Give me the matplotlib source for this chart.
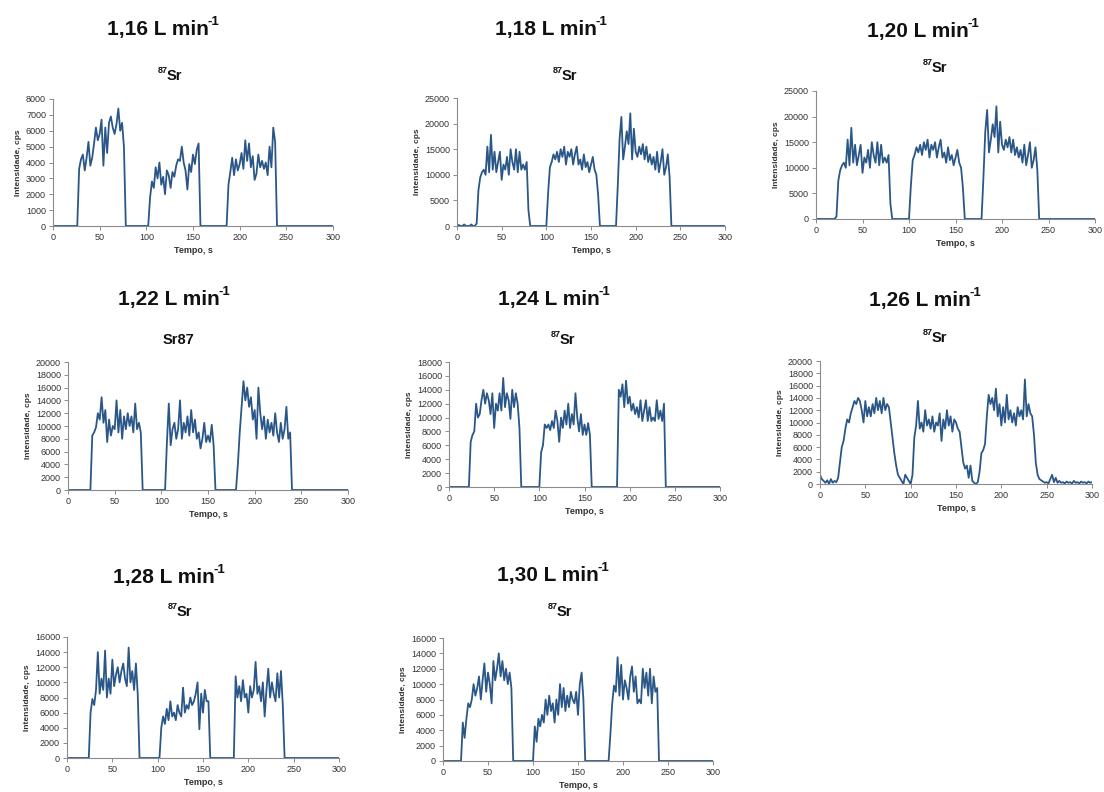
import numpy as np
import matplotlib
matplotlib.use("Agg")
import matplotlib.pyplot as plt

plt.rcParams['font.family'] = ['Liberation Sans', 'DejaVu Sans']

# ---------------- data (time grid, s; intensity, cps) ----------------
tempo = list(range(0, 301, 2))

sr_116 = ([0] * 14 +
          [3600, 4200, 4500, 3500, 4300, 5300, 3800, 4300, 5200, 6200, 5400, 5800, 6700,
           3800, 6200, 4600, 6500, 6900, 6200, 5800, 6400, 7400, 6000, 6500, 5000] +
          [0] * 13 +
          [1800, 2800, 2400, 3700, 3000, 4000, 2600, 3100, 2000, 3500, 3200, 2400, 3400,
           3100, 3800, 4200, 4100, 5000, 4000, 3500, 2300, 3900, 3400, 4500, 3900, 4800, 5200] +
          [0] * 15 +
          [2600, 3400, 4300, 3200, 4200, 3500, 3900, 4600, 3600, 5400, 4100, 5200, 3700,
           4400, 2900, 3300, 4500, 3700, 4100, 3600, 4000, 3200, 5000, 3700, 6200, 5300] +
          [0] * 31)

sr_118 = ([0, 200, 0, 0, 300, 0, 0, 0, 300, 0, 0] +
          [500, 7000, 9500, 10500, 11000, 10000, 15500, 10500, 17800, 11000, 14500, 10500,
           12500, 14500, 9000, 12000, 11000, 13500, 10000, 15000, 12500, 11000, 15000, 10500,
           14500, 11000, 12000, 11000, 12500, 3000] +
          [0] * 10 +
          [6500, 11500, 12500, 14000, 13000, 14500, 12500, 15000, 13500, 15500, 12000, 14500,
           13500, 15000, 12000, 14000, 15500, 12000, 13000, 11000, 14000, 11500, 12500, 10500,
           12000, 13500, 11000, 10000, 6000] +
          [0] * 10 +
          [8000, 17000, 21300, 13000, 15500, 18500, 16000, 22000, 13000, 19000, 14500, 13500,
           15500, 14000, 16000, 13000, 15500, 12500, 14000, 12000, 13500, 11000, 14500, 10500,
           12500, 15000, 10000, 11500, 14000, 9500] +
          [0] * 31)

sr_120 = ([0] * 11 +
          [500, 7500, 9500, 10500, 11000, 10000, 15500, 10500, 17800, 11000, 14500, 10500,
           12500, 14500, 9000, 12000, 11000, 13500, 10000, 15000, 12500, 11000, 15000, 10500,
           14500, 11000, 12000, 11000, 12500, 3000] +
          [0] * 10 +
          [6500, 11500, 12500, 14000, 13000, 14500, 12500, 15000, 13500, 15500, 12000, 14500,
           13500, 15000, 12000, 14000, 15500, 12000, 13000, 11000, 14000, 11500, 12500, 10500,
           12000, 13500, 11000, 10000, 6000] +
          [0] * 10 +
          [8000, 17000, 21300, 13000, 15500, 18500, 16000, 22000, 13000, 19000, 14500, 13500,
           15500, 14000, 16000, 13000, 15500, 12500, 14000, 12000, 13500, 11000, 14500, 10500,
           12500, 15000, 10000, 11500, 14000, 9500] +
          [0] * 31)

sr_122 = ([0] * 13 +
          [8500, 9000, 9800, 12000, 11000, 14500, 10500, 12500, 7500, 11000, 8500, 10000,
           9500, 14000, 9000, 12500, 8000, 11500, 9500, 12000, 10000, 11500, 9000, 13500,
           9500, 10500, 9000] +
          [0] * 13 +
          [7500, 13500, 7000, 9500, 10500, 8000, 9500, 14000, 8000, 10500, 9000, 11500, 8500,
           12500, 9000, 11000, 8000, 9000, 6500, 8000, 10500, 7500, 8500, 7500, 10200, 7000] +
          [0] * 12 +
          [4000, 9000, 13000, 17000, 14000, 16000, 13000, 14500, 11000, 12500, 8000, 16000,
           12000, 9500, 11500, 8000, 11000, 9000, 10500, 8500, 12000, 9000, 7500, 10500, 8000,
           9500, 13000, 8000, 9000] +
          [0] * 31)

sr_124 = ([0] * 12 +
          [6500, 7500, 8000, 12000, 10000, 10500, 12500, 14000, 12000, 13500, 12500, 10500,
           13500, 8500, 12000, 11000, 13500, 11000, 15700, 11500, 13500, 12500, 9800, 14000,
           11500, 13500, 12000, 8500] +
          [0] * 11 +
          [5000, 6000, 9000, 8500, 9000, 8200, 9500, 8500, 11000, 9500, 6500, 10000, 8500,
           11000, 9000, 12000, 8500, 10500, 9000, 13500, 10000, 8000, 10500, 7500, 9000, 7500,
           9200, 7500] +
          [0] * 15 +
          [14000, 13000, 14800, 11500, 15300, 12000, 13000, 11000, 12000, 10500, 11500, 10000,
           12500, 9500, 11000, 12500, 9500, 11500, 9500, 10000, 9500, 12500, 9800, 11000, 9500,
           12000] +
          [0] * 31)

sr_126 = [1500, 800, 500, 200, 600, 0, 800, 200, 500, 300,
          1000, 3500, 6000, 7000, 9000, 10500, 10000, 11500, 12500, 13500,
          13000, 14000, 13500, 12000, 10000, 13500, 11000, 12500, 11000, 13000,
          11500, 14000, 12000, 13500, 11500, 14000, 12000, 13000, 12500, 10000,
          7500, 5000, 3000, 1500, 1000, 500, 0, 1500, 1000, 500,
          0, 1500, 7500, 9500, 13500, 9000, 10000, 8500, 12000, 9500,
          10500, 9000, 11000, 8500, 10000, 9500, 11500, 7000, 10500, 9000,
          12000, 9500, 11000, 8500, 10500, 10000, 9000, 8500, 6000, 3500,
          2500, 3000, 1000, 3000, 500, 200, 0, 300, 2000, 5000,
          5500, 6500, 11000, 14500, 13000, 14000, 12000, 15500, 11000, 13000,
          9500, 12500, 10000, 14500, 10500, 12000, 10000, 11500, 9500, 12500,
          11000, 12000, 10500, 17000, 11000, 13000, 11500, 11000, 8000, 3500,
          1500, 800, 600, 400, 200, 300, 100, 800, 1500, 300,
          1000, 200, 500, 200, 300, 100, 400, 200, 300, 100,
          500, 200, 300, 100, 400, 200, 300, 100, 400, 200,
          300]

sr_128 = ([0] * 13 +
          [6000, 7800, 7000, 9000, 14000, 8500, 10500, 9000, 14200, 8000, 10500, 8500, 13000,
           9500, 11000, 12000, 10000, 11500, 12500, 10500, 9500, 14600, 10000, 11500, 9000,
           12500, 8500] +
          [0] * 12 +
          [4000, 5500, 4500, 6500, 5000, 7500, 5500, 6000, 5000, 7000, 6000, 5500, 9300, 6000,
           7000, 6500, 8000, 7000, 7500, 8500, 10000, 3800, 8500, 6000, 9000, 7500, 7500] +
          [0] * 14 +
          [10800, 8000, 9500, 7500, 10300, 8000, 8500, 6000, 9500, 8000, 9000, 12700, 8500,
           9500, 7500, 10000, 5500, 9000, 11800, 8000, 10000, 8500, 7500, 11200, 8000, 11500,
           7000] +
          [0] * 31)

sr_130 = ([0] * 11 +
          [5000, 3000, 5500, 7500, 7000, 8000, 10000, 8500, 9500, 11000, 8000, 10500, 12700,
           9000, 11500, 10000, 7500, 13000, 10500, 12000, 14000, 11000, 13000, 10500, 12000,
           10000, 11500, 9500] +
          [0] * 12 +
          [4500, 2500, 5500, 4500, 6000, 5000, 8000, 6000, 8500, 6500, 7500, 5000, 8000, 6000,
           10000, 7000, 9500, 6500, 8500, 7000, 9000, 8000, 7500, 9000, 6000, 10000, 11500,
           8000] +
          [0] * 14 +
          [3500, 7500, 9800, 9000, 13500, 8500, 12500, 8000, 10500, 9500, 8000, 11000, 12300,
           9000, 11000, 7500, 8000, 7500, 12000, 9500, 11500, 8500, 12000, 7500, 11000, 9000,
           9500] +
          [0] * 31)

titles = ["1,16", "1,18", "1,20", "1,22", "1,24", "1,26", "1,28", "1,30"]
subtitles = ["87Sr", "87Sr", "87Sr", "Sr87", "87Sr", "87Sr", "87Sr", "87Sr"]
series = [sr_116, sr_118, sr_120, sr_122, sr_124, sr_126, sr_128, sr_130]
y_max = [8000, 25000, 25000, 20000, 18000, 20000, 16000, 16000]
y_step = [1000, 5000, 5000, 2000, 2000, 2000, 2000, 2000]

# ---------------- layout (pixels) ----------------
W, H = 1104, 792
axes_px = [(53, 333, 99, 226), (457, 725, 98, 226), (816, 1095, 91, 219),
           (68, 348, 362, 490), (449, 720, 362, 487), (820, 1092, 361, 484),
           (67, 339, 637, 758), (443, 713, 638, 761)]
title_px = [(165, 30), (553, 30), (925, 32), (176, 300), (556, 300), (927, 301),
            (171, 578), (555, 576)]
sub_px = [(170, 76), (565, 76), (935, 68), (178, 340), (563, 340), (935, 338),
          (180, 612), (560, 612)]

line_color = '#2A5788'
axis_color = '#8C8C8C'
text_color = '#333333'
title_color = '#111111'

fig = plt.figure(figsize=(W / 100, H / 100), dpi=100)
fig.patch.set_facecolor('white')

for i in range(8):
    x0, x1, y0, y1 = axes_px[i]
    ax = fig.add_axes([x0 / W, 1 - y1 / H, (x1 - x0) / W, (y1 - y0) / H])
    vals = series[i]
    assert len(vals) == len(tempo), (i, len(vals))
    ax.plot(tempo, vals, color=line_color, lw=1.3, solid_joinstyle='round')
    ax.set_xlim(0, 300)
    ax.set_ylim(0, y_max[i])
    ax.set_xticks(range(0, 301, 50))
    ax.set_yticks(range(0, y_max[i] + 1, y_step[i]))
    for s in ['top', 'right']:
        ax.spines[s].set_visible(False)
    for s in ['left', 'bottom']:
        ax.spines[s].set_color(axis_color)
        ax.spines[s].set_linewidth(0.8)
    ax.tick_params(direction='out', length=3, width=0.7, color=axis_color,
                   labelsize=6.5, labelcolor=text_color, pad=2)
    ax.set_ylabel('Intensidade, cps', fontsize=6, fontweight='bold',
                  color=text_color, labelpad=3)
    ax.set_xlabel('Tempo, s', fontsize=6.5, fontweight='bold',
                  color=text_color, labelpad=3)
    ax.patch.set_alpha(0)

    # title: "x,xx L min" + superscript "-1"
    tx, ty = title_px[i]
    t_main = fig.text((tx - 7) / W, 1 - ty / H, titles[i] + " L min",
                      ha='center', va='center', fontsize=15, fontweight='bold',
                      color=title_color)
    ax.annotate("-1", xy=(1.0, 0.62), xycoords=t_main,
                xytext=(-1, 0), textcoords='offset points',
                ha='left', va='bottom', fontsize=9.5,
                fontweight='bold', color=title_color, annotation_clip=False)

    sx, sy = sub_px[i]
    sub = subtitles[i]
    if sub == "87Sr":
        s_main = fig.text((sx + 4) / W, 1 - sy / H, "Sr", ha='center', va='center',
                          fontsize=10.5, fontweight='bold', color=title_color)
        ax.annotate("87", xy=(0.0, 0.6), xycoords=s_main,
                    xytext=(1, 0), textcoords='offset points',
                    ha='right', va='bottom', fontsize=6.5,
                    fontweight='bold', color=title_color, annotation_clip=False)
    else:
        fig.text(sx / W, 1 - sy / H, sub, ha='center', va='center',
                 fontsize=10.5, fontweight='bold', color=title_color)

fig.savefig('out.png', dpi=100, facecolor='white')
